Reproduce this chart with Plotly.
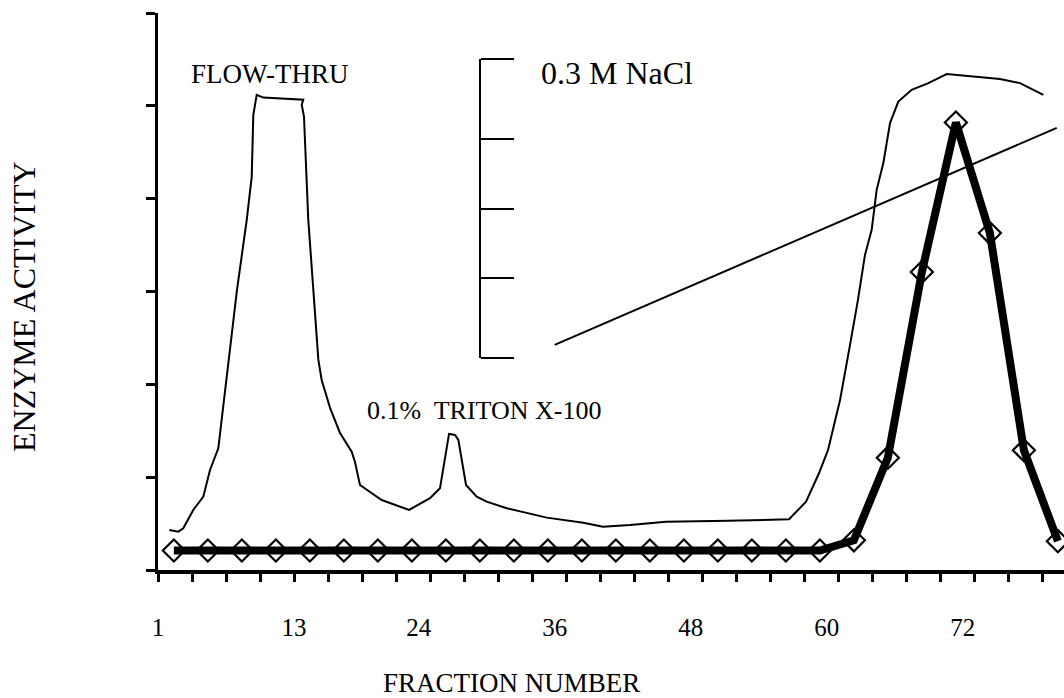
import plotly.graph_objects as go

# ---- data ----
# thin trace (protein / absorbance profile), arbitrary units
trace_frac = [2.00, 2.79, 3.23, 4.11, 5.00, 5.59, 6.32, 6.62, 6.91, 7.20, 7.97, 8.83,
              9.27, 9.41, 9.71, 10.29, 13.82, 13.68, 13.88, 14.26, 15.15, 15.44, 16.18,
              17.06, 18.09, 18.38, 18.82, 20.74, 23.15, 25.00, 25.88, 26.68, 27.21,
              27.50, 27.80, 28.18, 29.12, 30.00, 31.77, 33.53, 35.30, 38.53, 40.26,
              42.65, 45.82, 51.29, 56.68, 58.18, 59.32, 60.12, 61.18, 62.06, 62.76,
              63.38, 63.97, 64.41, 65.00, 65.59, 66.32, 67.50, 68.97, 70.59, 72.94,
              75.29, 77.06, 79.12]
trace_val = [0.431, 0.413, 0.449, 0.647, 0.790, 1.078, 1.311, 1.616, 1.940, 2.263, 3.017,
             3.772, 4.238, 4.903, 5.119, 5.089, 5.065, 5.011, 4.885, 3.772, 2.263, 2.047,
             1.746, 1.476, 1.275, 1.164, 0.916, 0.754, 0.647, 0.773, 0.880, 1.466, 1.455,
             1.401, 1.185, 0.916, 0.790, 0.736, 0.665, 0.611, 0.564, 0.510, 0.467, 0.485,
             0.520, 0.531, 0.546, 0.736, 1.042, 1.293, 1.832, 2.425, 2.909, 3.394, 3.664,
             4.095, 4.383, 4.814, 5.046, 5.172, 5.245, 5.342, 5.316, 5.288, 5.245, 5.119]

# enzyme activity (diamonds)
enz_frac = [2.4 + 3 * i for i in range(27)]
enz_val = [0.21] * 20 + [0.32, 1.21, 3.21, 4.82, 3.63, 1.29, 0.31]

# NaCl gradient (M)
nacl_frac = [36.0, 80.3]
nacl_conc = [0.013, 0.231]
nacl_scale_ticks = [0, 0.08, 0.15, 0.22, 0.3]

# axis ticks and labels
x_minor_ticks = [1 + 3 * k for k in range(27)]
x_label_vals = [1, 13, 24, 36, 48, 60, 72]
x_label_text = [str(v) for v in x_label_vals]
y_ticks = [0, 1, 2, 3, 4, 5, 6]

FONT = "Liberation Serif, Times New Roman, serif"

fig = go.Figure()

fig.add_trace(go.Scatter(x=trace_frac, y=trace_val, mode="lines",
                         line=dict(color="black", width=2), hoverinfo="skip"))
fig.add_trace(go.Scatter(x=enz_frac, y=enz_val, mode="lines+markers",
                         line=dict(color="black", width=8),
                         marker=dict(symbol="diamond-open", size=17, color="black",
                                     line=dict(width=2.2, color="black")),
                         cliponaxis=False))
fig.add_trace(go.Scatter(x=nacl_frac, y=nacl_conc, mode="lines",
                         xaxis="x", yaxis="y3",
                         line=dict(color="black", width=2)))

fig.update_layout(
    width=1064, height=698,
    margin=dict(l=158, r=0, t=13, b=128, autoexpand=False),
    paper_bgcolor="white", plot_bgcolor="rgba(0,0,0,0)",
    showlegend=False,
    font=dict(family=FONT, color="black"),
    xaxis=dict(range=[1, 80.94], showgrid=False, zeroline=False, automargin=False,
               showline=True, linecolor="black", linewidth=3.5, anchor="y",
               tickmode="array", tickvals=x_label_vals, ticktext=x_label_text,
               ticks="outside", ticklen=32, tickcolor="rgba(0,0,0,0)",
               tickfont=dict(family=FONT, size=25, color="black"),
               minor=dict(tickmode="array", tickvals=x_minor_ticks, ticks="outside",
                          ticklen=8, tickwidth=3, tickcolor="black", showgrid=False)),
    yaxis=dict(range=[0, 6.0], showgrid=False, zeroline=False, automargin=False,
               showline=True, linecolor="black", linewidth=3, domain=[0, 1],
               tickmode="array", tickvals=y_ticks, ticks="outside",
               ticklen=9, tickwidth=3, tickcolor="black", showticklabels=False),
    yaxis3=dict(anchor="free", position=0.3554, side="right", automargin=False,
                domain=[0.3811, 0.9169], range=[0, 0.3],
                showgrid=False, zeroline=False, showline=True,
                linecolor="black", linewidth=2,
                tickmode="array", tickvals=nacl_scale_ticks, ticks="outside",
                ticklen=33, tickwidth=2, tickcolor="black", showticklabels=False),
)

annotations = [
    dict(text="FLOW-THRU", x=10.88, y=5.345, xref="x", yref="y",
         xanchor="center", yanchor="middle", showarrow=False, font=dict(size=27)),
    dict(text="0.1%  TRITON X-100", x=29.76, y=1.713, xref="x", yref="y",
         xanchor="center", yanchor="middle", showarrow=False, font=dict(size=26)),
    dict(text="0.3 M NaCl", x=34.62, y=5.356, xref="x", yref="y",
         xanchor="left", yanchor="middle", showarrow=False, font=dict(size=32)),
    dict(text="FRACTION NUMBER", x=0.3907, y=-0.2029, xref="paper", yref="paper",
         xanchor="center", yanchor="middle", showarrow=False, font=dict(size=27)),
    dict(text="ENZYME ACTIVITY", x=-0.1479, y=0.4722, xref="paper", yref="paper",
         xanchor="center", yanchor="middle", textangle=-90, showarrow=False,
         font=dict(size=32)),
]
fig.update_layout(annotations=annotations)

fig.write_html(
    "out.html",
    config={"displayModeBar": False},
    post_script="document.body.style.margin='0';document.body.style.overflow='hidden';",
)
